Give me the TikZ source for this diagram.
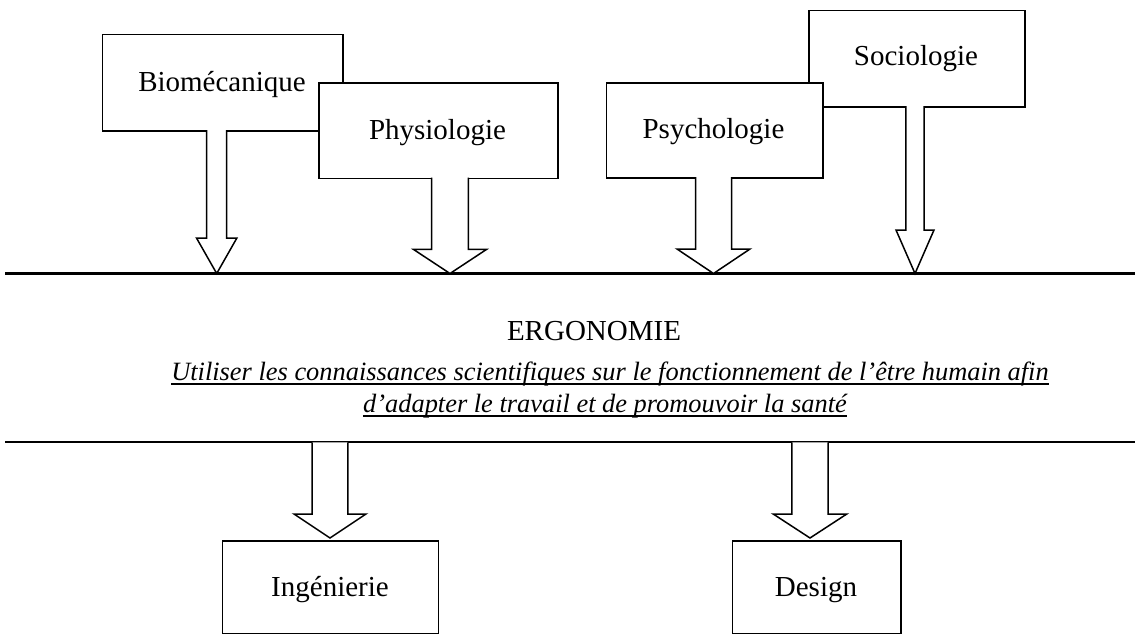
\documentclass[tikz,border=0pt]{standalone}
\usepackage{fontspec}
\setmainfont{Liberation Serif}
\begin{document}
\begin{tikzpicture}[x=1pt,y=-1pt,
  box/.style={draw=black,fill=white,line width=1.5pt,inner sep=0pt,anchor=north west},
  lbl/.style={inner sep=0pt,anchor=base,font=\fontsize{29}{34}\selectfont},
  itl/.style={inner sep=0pt,anchor=base,font=\fontsize{26.4}{31}\selectfont\itshape},
  blk/.style={draw=black,fill=white,line width=1.5pt,line join=miter},
  hline/.style={draw=black,line width=2.3pt},
  uline/.style={draw=black,line width=1.3pt}]
\useasboundingbox (0,0) rectangle (1140,634);
\newcommand{\blockarr}[6]{\draw[blk] (#1-#5,#2) -- (#1-#5,#3) -- (#1-#6,#3) -- (#1,#4) -- (#1+#6,#3) -- (#1+#5,#3) -- (#1+#5,#2);}
% horizontal lines
\coordinate (l1a) at (5,273.5);
\coordinate (l1b) at (1135,273.5);
\coordinate (l2a) at (5,442.3);
\coordinate (l2b) at (1135,442.3);
\draw[hline] (l1a) -- (l1b);
\draw[hline] (l2a) -- (l2b);
% top boxes
\node[box,minimum width=240.3pt,minimum height=96pt] (bio) at (101.7,34) {};
\node[box,minimum width=239pt,minimum height=95.7pt] (phy) at (318,82) {};
\node[box,minimum width=216pt,minimum height=96pt] (soc) at (808,10) {};
\node[box,minimum width=216.3pt,minimum height=95pt] (psy) at (605.7,82) {};
\node[lbl] (bioT) at (222,91) {Biomécanique};
\node[lbl] (phyT) at (437.5,139.5) {Physiologie};
\node[lbl] (socT) at (916,66) {Sociologie};
\node[lbl] (psyT) at (713.5,138.5) {Psychologie};
% arrows down to ergonomie
\blockarr{216.7}{130}{238}{273.5}{10}{20.2}
\blockarr{450}{177.7}{249.3}{273.5}{18.3}{36.7}
\blockarr{713.5}{177}{249}{273.5}{18}{36.5}
\blockarr{915}{106}{230}{273.5}{9.2}{19}
% ergonomie
\node[lbl] (ergo) at (594,340) {ERGONOMIE};
\node[itl] (def1) at (610,380) {Utiliser les connaissances scientifiques sur le fonctionnement de l’être humain afin};
\node[itl] (def2) at (605,412) {d’adapter le travail et de promouvoir la santé};
\draw[uline] ([yshift=-4pt]def1.base west) -- ([yshift=-4pt]def1.base east);
\draw[uline] ([yshift=-4pt]def2.base west) -- ([yshift=-4pt]def2.base east);
% bottom
\blockarr{330}{442.3}{514}{538}{17.8}{36}
\blockarr{810}{442.3}{514}{538}{18.2}{36.8}
\node[box,minimum width=216pt,minimum height=92.5pt] (ing) at (221.7,540) {};
\node[box,minimum width=168.3pt,minimum height=92.5pt] (des) at (731.7,540) {};
\node[lbl] (ingT) at (330,596) {Ingénierie};
\node[lbl] (desT) at (816,596) {Design};
\end{tikzpicture}
\end{document}
